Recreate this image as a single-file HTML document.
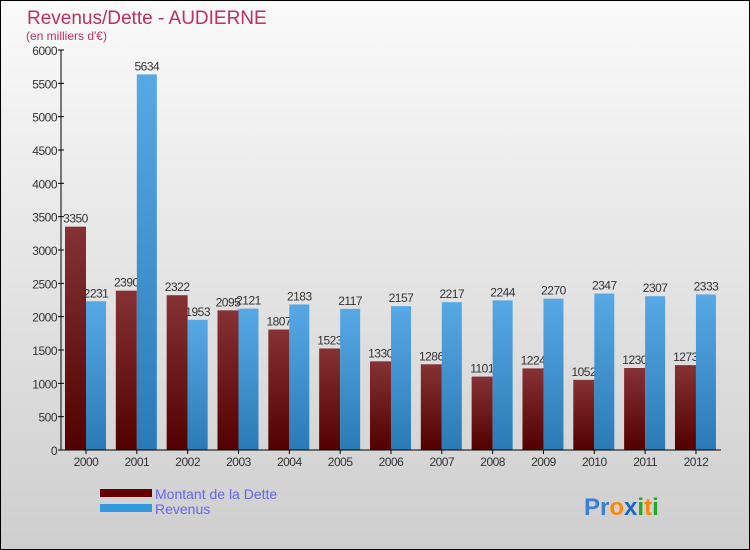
<!DOCTYPE html>
<html><head><meta charset="utf-8"><style>
body{margin:0;width:750px;height:550px;overflow:hidden;font-family:"Liberation Sans",sans-serif}
svg{display:block}
</style></head><body>
<svg width="750" height="550" xmlns="http://www.w3.org/2000/svg">
<defs>
<linearGradient id="bg" x1="0" y1="0" x2="0" y2="1"><stop offset="0" stop-color="#fafafa"/><stop offset="1" stop-color="#cecece"/></linearGradient>
<linearGradient id="gd" x1="0" y1="0" x2="0" y2="1"><stop offset="0" stop-color="#863235"/><stop offset="1" stop-color="#520000"/></linearGradient>
<linearGradient id="gr" x1="0" y1="0" x2="0" y2="1"><stop offset="0" stop-color="#57a9e5"/><stop offset="1" stop-color="#2a7ab5"/></linearGradient>
</defs>
<rect x="0.5" y="0.5" width="749" height="549" fill="url(#bg)" stroke="#000"/>
<text x="27" y="24" font-size="19" fill="#c0305e">Revenus/Dette - AUDIERNE</text>
<text x="26" y="40" font-size="12" fill="#c0305e">(en milliers d'€)</text>
<g id="plot"></g>
<rect x="100" y="489" width="52" height="8" fill="#660000"/>
<text x="155" y="499" font-size="14" fill="#6464f0">Montant de la Dette</text>
<rect x="100" y="504" width="52" height="8" fill="#3399dd"/>
<text x="155" y="514" font-size="14" fill="#6464f0">Revenus</text>
<text x="584" y="515" font-size="24" font-weight="bold"><tspan fill="#3b7fd0">Pr</tspan><tspan fill="#ff8800">o</tspan><tspan fill="#1a66cc">x</tspan><tspan fill="#22aa22">i</tspan><tspan fill="#ff8800">t</tspan><tspan fill="#22aa22">i</tspan></text>
</svg>
<script>
const years=["2000","2001","2002","2003","2004","2005","2006","2007","2008","2009","2010","2011","2012"];
const dette=[3350,2390,2322,2095,1807,1523,1330,1286,1101,1224,1052,1230,1273];
const revenus=[2231,5634,1953,2121,2183,2117,2157,2217,2244,2270,2347,2307,2333];
const yTicks=[0,500,1000,1500,2000,2500,3000,3500,4000,4500,5000,5500,6000];
const NS="http://www.w3.org/2000/svg";
const g=document.getElementById('plot');
const y0=450,yTop=50,yMax=6000,xL=61,x0=86,step=50.83;
const Y=v=>y0-(v/yMax)*(y0-yTop);
const X=i=>x0+i*step;
function mk(t,a){const e=document.createElementNS(NS,t);for(const k in a)e.setAttribute(k,a[k]);g.appendChild(e);return e;}
yTicks.forEach(v=>{
 const l=mk('line',{x1:xL-3,x2:xL+3,y1:Y(v),y2:Y(v),stroke:'#000'});
 
 
 const t=mk('text',{x:xL-4,y:Y(v)+5,'font-size':12,'text-anchor':'end',fill:'#333','letter-spacing':'-0.5'});
 t.textContent=v;
 
 
});
years.forEach((yr,i)=>{
 const cx=X(i);
 const r=mk('rect',{x:cx-21,y:Y(dette[i]),width:21,height:y0-Y(dette[i]),fill:'url(#gd)'});
 
 
 const t=mk('text',{x:cx-10.5,y:Y(dette[i])-4,'font-size':12,'text-anchor':'middle',fill:'#333','letter-spacing':'-0.5'});
 t.textContent=dette[i];
 
 
});
years.forEach((yr,i)=>{
 const cx=X(i);
 const r=mk('rect',{x:cx,y:Y(revenus[i]),width:20,height:y0-Y(revenus[i]),fill:'url(#gr)'});
 
 
 const t=mk('text',{x:cx+10,y:Y(revenus[i])-4,'font-size':12,'text-anchor':'middle',fill:'#333','letter-spacing':'-0.5'});
 t.textContent=revenus[i];
 
 
 const tk=mk('line',{x1:cx,x2:cx,y1:y0,y2:y0+4,stroke:'#000'});
 
 
 const xl=mk('text',{x:cx,y:466,'font-size':12,'text-anchor':'middle',fill:'#333','letter-spacing':'-0.5'});
 xl.textContent=yr;
 
 
});
const ya=mk('line',{x1:xL,x2:xL,y1:yTop,y2:y0,stroke:'#000'});


const xa=mk('line',{x1:xL,x2:721,y1:y0,y2:y0,stroke:'#000'});


</script>
</body></html>
